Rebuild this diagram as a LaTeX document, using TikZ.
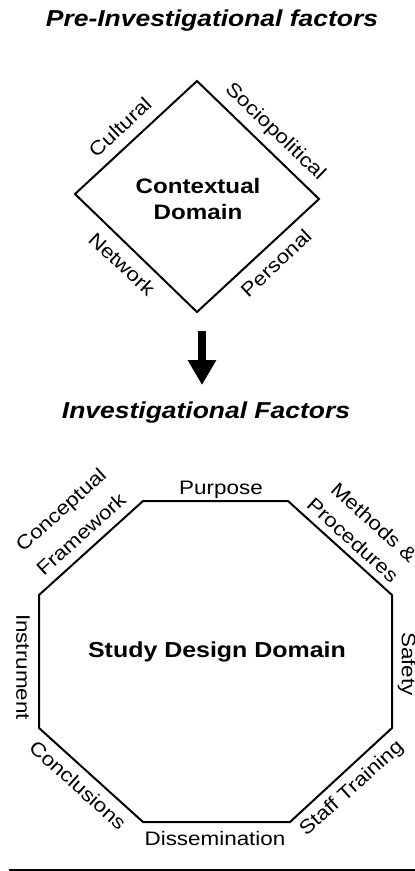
\documentclass[tikz,border=0pt]{standalone}
\usepackage{fontspec}
\setmainfont[FakeStretch=1.15]{Liberation Sans}
\usetikzlibrary{arrows.meta}
\tikzset{
  shapeline/.style={draw=black,line width=2pt,line join=miter},
  lbl/.style={inner sep=0pt,font=\fontsize{19.5}{22}\selectfont},
  titlelbl/.style={inner sep=0pt,font=\fontsize{23}{26}\selectfont\bfseries\itshape},
  domainlbl/.style={inner sep=0pt,align=center,font=\fontsize{21}{26}\selectfont\bfseries},
}
\begin{document}
\begin{tikzpicture}[x=1pt,y=-1pt]
\useasboundingbox (0,0) rectangle (415,871);
% titles
\node[titlelbl] (t1) at (212,21) {Pre-Investigational factors};
\node[titlelbl] (t2) at (206,413) {Investigational Factors};
% diamond
\coordinate (dT) at (197,81);
\coordinate (dR) at (319,199);
\coordinate (dB) at (197,312);
\coordinate (dL) at (75,194);
\draw[shapeline] (dT) -- (dR) -- (dB) -- (dL) -- cycle;
\node[domainlbl] (ctx) at (198,199) {Contextual\\Domain};
\node[lbl,rotate=43] (cult) at (120,127) {Cultural};
\node[lbl,rotate=-44] (socio) at (275,132) {Sociopolitical};
\node[lbl,rotate=-43] (netw) at (122,264) {Network};
\node[lbl,rotate=43] (pers) at (276,263) {Personal};
% arrow
\coordinate (aTop) at (202,331);
\coordinate (aTip) at (202,385);
\draw[line width=8pt,-{Triangle[width=27pt,length=25pt]}] (aTop) -- (aTip);
% octagon
\coordinate (o1) at (143,501);
\coordinate (o2) at (288,501);
\coordinate (o3) at (392,595);
\coordinate (o4) at (392,728);
\coordinate (o5) at (290,822);
\coordinate (o6) at (143,822);
\coordinate (o7) at (39,728);
\coordinate (o8) at (39,595);
\draw[shapeline] (o1) -- (o2) -- (o3) -- (o4) -- (o5) -- (o6) -- (o7) -- (o8) -- cycle;
\node[domainlbl,font=\fontsize{21.7}{26}\selectfont\bfseries] (sdd) at (217,652) {Study Design Domain};
\node[lbl] (purp) at (221,490) {Purpose};
\node[lbl,rotate=42] (concept) at (62,511) {Conceptual};
\node[lbl,rotate=42] (frame) at (81,534) {Framework};
\node[lbl,rotate=-42] (meth) at (374,522) {Methods \&};
\node[lbl,rotate=-42] (proc) at (353,540) {Procedures};
\node[lbl,rotate=-90] (safe) at (407,664) {Safety};
\node[lbl,rotate=-90] (instr) at (23,667) {Instrument};
\node[lbl,rotate=-42] (concl) at (78,785) {Conclusions};
\node[lbl] (dissem) at (215,839) {Dissemination};
\node[lbl,rotate=42] (staff) at (352,789) {Staff Training};
% bottom rule
\coordinate (rl) at (9,870);
\coordinate (rr) at (415,870);
\draw[line width=2pt] (rl) -- (rr);
\end{tikzpicture}
\end{document}
